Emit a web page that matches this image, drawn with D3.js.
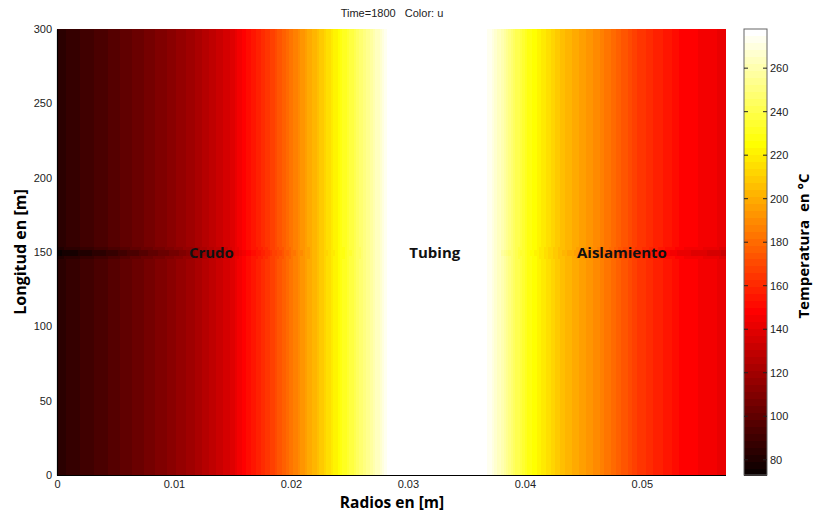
<!DOCTYPE html>
<html lang="es">
<head>
<meta charset="UTF-8">
<title>Temperatura</title>
<script src="https://d3js.org/d3.v7.min.js"></script>
<style>
  body { margin: 0; background: #fff; }
  svg text { font-family: "Liberation Sans", Arial, sans-serif; }
  .lbl { font-family: "Open Sans", "Noto Sans", sans-serif; font-weight: bold; }
</style>
</head>
<body>
<div id="chart"></div>
<script>
"use strict";

// radial temperature profile (m, °C)
const radii = [0, 0.002, 0.0043, 0.0071, 0.0095, 0.0114, 0.0130, 0.0148, 0.0160, 0.0180,
               0.0195, 0.0215, 0.0238, 0.0259, 0.0275, 0.0283, 0.0300, 0.0330, 0.0360,
               0.0368, 0.0379, 0.0387, 0.0404, 0.0430, 0.0464, 0.0498, 0.0532, 0.0572];
const temps = [84, 89, 95, 104, 112, 119, 127, 137, 149, 164,
               178, 198, 222, 246, 265, 276, 288, 292, 286,
               276, 262, 250, 228, 207, 188, 165, 150, 142];
// how strongly the dark band at 150 m shows at each radius
const dipWeight = [1, 1, 1, 0.9, 0.8, 0.7, 0.6, 0.5, 0.4, 0.3,
                   0.2, 0.1, 0.1, 0.1, 0, 0, 0, 0, 0,
                   0, 0, 0.1, 0.1, 0.2, 0.4, 0.6, 0.8, 1];
// rows (start of 2 m bin) of the dark band and their drop in °C
const dipRows = [146, 148, 150, 152];
const dipDepth = [3, 9, 9, 3];

const xTicks = [0, 0.01, 0.02, 0.03, 0.04, 0.05];
const yTicks = [0, 50, 100, 150, 200, 250, 300];
const cTicks = [80, 100, 120, 140, 160, 180, 200, 220, 240, 260];
const regions = [
  {name: "Crudo", r: 0.0132},
  {name: "Tubing", r: 0.0323},
  {name: "Aislamiento", r: 0.0483}
];

const W = 815, H = 512;
const pLeft = 57, pRight = 726, pTop = 29, pBottom = 475;

// MATLAB hot(64)
function hotMap(n) {
  const n1 = Math.floor(3 / 8 * n), cols = [];
  for (let i = 0; i < n; i++) {
    const r = i < n1 ? (i + 1) / n1 : 1;
    const g = i < n1 ? 0 : (i < 2 * n1 ? (i - n1 + 1) / n1 : 1);
    const b = i < 2 * n1 ? 0 : (i - 2 * n1 + 1) / (n - 2 * n1);
    cols.push(d3.rgb(r * 255, g * 255, b * 255).toString());
  }
  return cols;
}
const hot = hotMap(64);

const x = d3.scaleLinear().domain([0, 0.0572]).range([pLeft, pRight]);
const y = d3.scaleLinear().domain([0, 300]).range([pBottom, pTop]);
const color = d3.scaleQuantize().domain([73, 278]).range(hot);
const colorClamp = v => color(Math.max(73, Math.min(277.99, v)));
const profile = d3.scaleLinear().domain(radii).range(temps);
const weight = d3.scaleLinear().domain(radii).range(dipWeight);

const svg = d3.select("#chart").append("svg")
  .attr("width", W).attr("height", H);

// heat map cells
const dx = 0.0002, dy = 2;
const cols = d3.range(0, 0.0572 - 1e-9, dx);
const rows = d3.range(0, 300, dy);
const cells = [];
rows.forEach(r0 => {
  const k = dipRows.indexOf(r0);
  cols.forEach(c0 => {
    const rc = c0 + dx / 2;
    let t = profile(rc);
    if (k >= 0) t -= dipDepth[k] * weight(rc);
    cells.push({c0, r0, t});
  });
});
const cw = x(dx) - x(0);
svg.append("g").selectAll("rect").data(cells).join("rect")
  .attr("x", d => x(d.c0))
  .attr("y", d => y(d.r0 + dy))
  .attr("width", d => Math.min(cw + 0.6, pRight - x(d.c0)))
  .attr("height", y(0) - y(dy) + 0.6)
  .attr("fill", d => colorClamp(d.t))
  .attr("shape-rendering", "crispEdges");

// axes
const xAxis = svg.append("g").attr("transform", `translate(0,${pBottom})`)
  .call(d3.axisBottom(x).tickValues(xTicks).tickSize(0).tickPadding(5)
    .tickFormat(d => d === 0 ? "0" : d3.format(".2f")(d)));
const yAxis = svg.append("g").attr("transform", `translate(${pLeft},0)`)
  .call(d3.axisLeft(y).tickValues(yTicks).tickSize(0).tickPadding(5));
[xAxis, yAxis].forEach(a => {
  a.select(".domain").attr("stroke", "#000").attr("stroke-width", 1.2);
  a.selectAll("text").attr("font-size", 11).attr("fill", "#222")
    .attr("font-family", "'Liberation Sans', Arial, sans-serif");
});
xAxis.select(".domain").attr("d", `M${pLeft},0.5H${pRight}`);

// region labels
svg.append("g").selectAll("text").data(regions).join("text")
  .attr("class", "lbl")
  .attr("x", d => x(d.r))
  .attr("y", y(150) + 6)
  .attr("text-anchor", "middle")
  .attr("font-size", 15)
  .attr("fill", "#111")
  .text(d => d.name);

// titles
svg.append("text").attr("x", 392).attr("y", 17).attr("text-anchor", "middle")
  .attr("font-size", 11).attr("fill", "#222").attr("xml:space", "preserve")
  .text("Time=1800   Color: u");
svg.append("text").attr("class", "lbl").attr("x", 392).attr("y", 508)
  .attr("text-anchor", "middle").attr("font-size", 15.5).attr("fill", "#000")
  .text("Radios en [m]");
svg.append("text").attr("class", "lbl")
  .attr("transform", `translate(26,${(pTop + pBottom) / 2}) rotate(-90)`)
  .attr("text-anchor", "middle").attr("font-size", 16).attr("fill", "#000")
  .text("Longitud en [m]");

// colour bar
const cbX = 744, cbW = 23;
const cy = d3.scaleLinear().domain([73, 278]).range([pBottom, pTop]);
const cb = svg.append("g");
cb.selectAll("rect").data(hot).join("rect")
  .attr("x", cbX)
  .attr("y", (d, i) => cy(73 + (i + 1) * 205 / 64))
  .attr("width", cbW)
  .attr("height", cy(0) - cy(205 / 64) + 0.5)
  .attr("fill", d => d)
  .attr("shape-rendering", "crispEdges");
cb.append("rect").attr("x", cbX).attr("y", pTop).attr("width", cbW)
  .attr("height", pBottom - pTop).attr("fill", "none")
  .attr("stroke", "#666").attr("stroke-width", 1);
cb.selectAll("line.tl").data(cTicks).join("line")
  .attr("x1", cbX).attr("x2", cbX + 4)
  .attr("y1", d => cy(d)).attr("y2", d => cy(d))
  .attr("stroke", "#222");
cb.selectAll("line.tr").data(cTicks).join("line")
  .attr("x1", cbX + cbW - 4).attr("x2", cbX + cbW)
  .attr("y1", d => cy(d)).attr("y2", d => cy(d))
  .attr("stroke", "#222");
cb.selectAll("text").data(cTicks).join("text")
  .attr("x", cbX + cbW + 3).attr("y", d => cy(d) + 4)
  .attr("font-size", 11).attr("fill", "#222")
  .text(d => d);
svg.append("text").attr("class", "lbl")
  .attr("transform", `translate(809,${(pTop + pBottom) / 2 - 6}) rotate(-90)`)
  .attr("text-anchor", "middle").attr("font-size", 15).attr("fill", "#000")
  .attr("xml:space", "preserve")
  .text("Temperatura  en °C");
</script>
</body>
</html>
